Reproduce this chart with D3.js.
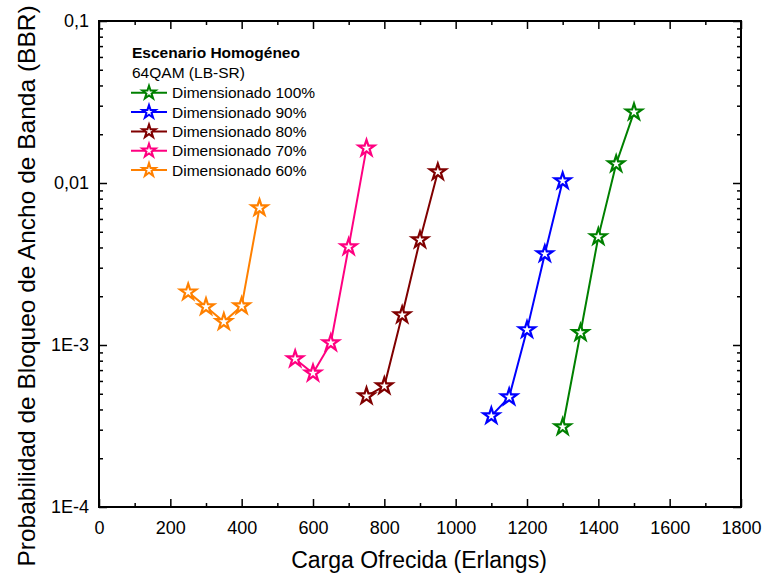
<!DOCTYPE html>
<html>
<head>
<meta charset="utf-8">
<script src="https://cdn.jsdelivr.net/npm/d3@7"></script>
<style>
  body { margin: 0; background: #fff; }
  text { font-family: "Liberation Sans", Arial, sans-serif; fill: #000; }
</style>
</head>
<body>
<svg id="chart" width="763" height="578"></svg>
<script>
// ---- data ----
const seriesNames  = ["Dimensionado 100%", "Dimensionado 90%", "Dimensionado 80%", "Dimensionado 70%", "Dimensionado 60%"];
const seriesColors = ["#008000", "#0000ff", "#800000", "#ff0080", "#ff8000"];

const load100 = [1300, 1350, 1400, 1450, 1500];
const bbr100  = [0.000312, 0.00119, 0.00465, 0.0131, 0.0274];
const load90  = [1100, 1150, 1200, 1250, 1300];
const bbr90   = [0.000365, 0.000477, 0.00124, 0.00365, 0.0103];
const load80  = [750, 800, 850, 900, 950];
const bbr80   = [0.000484, 0.000558, 0.00153, 0.00445, 0.0117];
const load70  = [550, 600, 650, 700, 750];
const bbr70   = [0.00082, 0.00067, 0.00103, 0.00403, 0.0164];
const load60  = [250, 300, 350, 400, 450];
const bbr60   = [0.00212, 0.00172, 0.00139, 0.00174, 0.00702];

const xTicks = [0, 200, 400, 600, 800, 1000, 1200, 1400, 1600, 1800];
const yTicks = [1e-4, 1e-3, 1e-2, 1e-1];
const yTickLabels = ["1E-4", "1E-3", "0,01", "0,1"];

const loads = [load100, load90, load80, load70, load60];
const bbrs  = [bbr100, bbr90, bbr80, bbr70, bbr60];
const series = seriesNames.map((name, i) => ({
  name, color: seriesColors[i],
  pts: loads[i].map((x, j) => ({ x, y: bbrs[i][j] }))
}));

// ---- layout ----
const m = { left: 99, right: 22, top: 21, bottom: 71 };
const W = 763, H = 578;
const svg = d3.select("#chart");
const FONT = "Liberation Sans, Arial, sans-serif";

const x = d3.scaleLinear().domain([0, 1800]).range([m.left, W - m.right]);
const y = d3.scaleLog().domain([1e-4, 0.1]).range([H - m.bottom, m.top]);

// minor ticks
const xMinor = d3.range(100, 1800, 200);
const yMinor = [];
[1e-4, 1e-3, 1e-2].forEach(d => { for (let k = 2; k <= 9; k++) yMinor.push(d * k); });

const g = svg.append("g");
const noDomain = a => a.select(".domain").remove();

// bottom axis
g.append("g").attr("transform", `translate(0,${y(1e-4)})`)
  .call(d3.axisBottom(x).tickValues(xTicks).tickSizeInner(-8).tickSizeOuter(0).tickPadding(14)
    .tickFormat(d3.format("d")))
  .call(noDomain)
  .call(a => a.selectAll("text").attr("font-size", 18).attr("font-family", FONT));
g.append("g").attr("transform", `translate(0,${y(1e-4)})`)
  .call(d3.axisBottom(x).tickValues(xMinor).tickSize(-4).tickFormat(""))
  .call(noDomain);
// top axis
g.append("g").attr("transform", `translate(0,${y(0.1)})`)
  .call(d3.axisTop(x).tickValues(xTicks).tickSize(-8).tickFormat(""))
  .call(noDomain);
g.append("g").attr("transform", `translate(0,${y(0.1)})`)
  .call(d3.axisTop(x).tickValues(xMinor).tickSize(-4).tickFormat(""))
  .call(noDomain);

// left axis
g.append("g").attr("transform", `translate(${x(0)},0)`)
  .call(d3.axisLeft(y).tickValues(yTicks).tickSize(-8).tickPadding(10)
    .tickFormat((d, i) => yTickLabels[i]))
  .call(noDomain)
  .call(a => a.selectAll("text").attr("font-size", 18).attr("font-family", FONT));
g.append("g").attr("transform", `translate(${x(0)},0)`)
  .call(d3.axisLeft(y).tickValues(yMinor).tickSize(-4).tickFormat(""))
  .call(noDomain);
// right axis
g.append("g").attr("transform", `translate(${x(1800)},0)`)
  .call(d3.axisRight(y).tickValues(yTicks).tickSize(-8).tickFormat(""))
  .call(noDomain);
g.append("g").attr("transform", `translate(${x(1800)},0)`)
  .call(d3.axisRight(y).tickValues(yMinor).tickSize(-4).tickFormat(""))
  .call(noDomain);

g.selectAll(".tick line").attr("stroke", "#000").attr("stroke-width", 1.5);

// frame
svg.append("rect")
  .attr("x", x(0)).attr("y", y(0.1))
  .attr("width", x(1800) - x(0)).attr("height", y(1e-4) - y(0.1))
  .attr("fill", "none").attr("stroke", "#000").attr("stroke-width", 2);

// axis titles
svg.append("text").attr("x", 419).attr("y", 568)
  .attr("text-anchor", "middle").attr("font-size", 23).text("Carga Ofrecida (Erlangs)");
svg.append("text")
  .attr("transform", `translate(35,286) rotate(-90)`)
  .attr("text-anchor", "middle").attr("font-size", 24.5).text("Probabilidad de Bloqueo de Ancho de Banda (BBR)");

// series
const star = d3.symbol().type(d3.symbolStar).size(80);
const legendStar = d3.symbol().type(d3.symbolStar).size(55);
const line = d3.line().x(d => x(d.x)).y(d => y(d.y));

series.forEach(s => {
  svg.append("path").datum(s.pts)
    .attr("d", line).attr("fill", "none").attr("stroke", s.color).attr("stroke-width", 2);
  svg.selectAll(null).data(s.pts).enter().append("path")
    .attr("d", star)
    .attr("transform", d => `translate(${x(d.x)},${y(d.y)})`)
    .attr("fill", "#fff").attr("stroke", s.color).attr("stroke-width", 2.2);
});

// legend
const lg = svg.append("g");
lg.append("text").attr("x", 132).attr("y", 58).attr("font-size", 15.5).attr("font-weight", "bold")
  .text("Escenario Homogéneo");
lg.append("text").attr("x", 132).attr("y", 78).attr("font-size", 15.5).text("64QAM (LB-SR)");
series.forEach((s, i) => {
  const yy = 92.7 + i * 19.35;
  lg.append("line").attr("x1", 131).attr("x2", 167).attr("y1", yy).attr("y2", yy)
    .attr("stroke", s.color).attr("stroke-width", 2);
  lg.append("path").attr("d", legendStar).attr("transform", `translate(149,${yy})`)
    .attr("fill", "#fff").attr("stroke", s.color).attr("stroke-width", 2);
  lg.append("text").attr("x", 172).attr("y", yy + 5.5).attr("font-size", 15.5).text(s.name);
});
</script>
</body>
</html>
